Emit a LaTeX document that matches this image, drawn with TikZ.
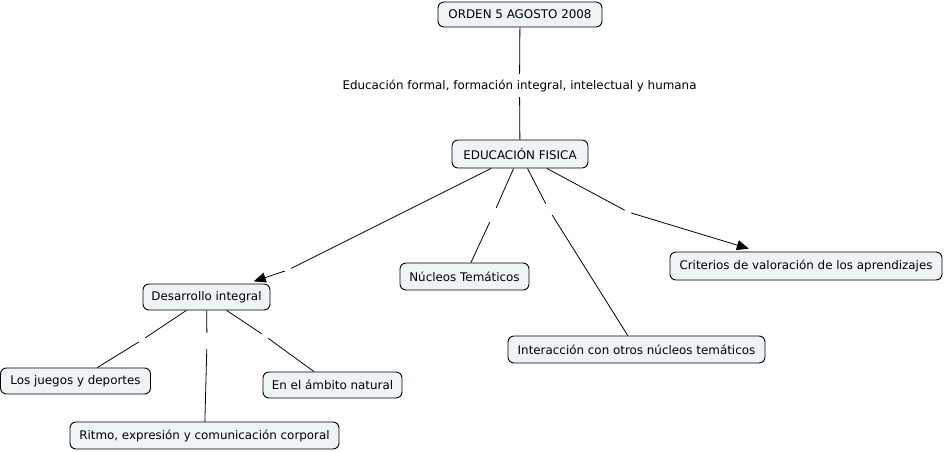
\documentclass[tikz,border=0pt]{standalone}
\usepackage{fontspec}
\setmainfont{DejaVu Sans}
\usetikzlibrary{arrows.meta}
\definecolor{boxfill}{RGB}{238,244,246}
\begin{document}
\begin{tikzpicture}[x=1pt,y=-1pt,
  concept/.style={draw=black, line width=0.9pt, rounded corners=6pt, fill=boxfill,
    inner sep=0pt, font=\fontsize{11.9}{14}\selectfont},
  lbl/.style={inner sep=0pt, font=\fontsize{11.9}{14}\selectfont},
  gapnode/.style={inner sep=0pt, minimum width=6pt, minimum height=16pt},
  link/.style={line width=0.8pt},
  arr/.style={link, -{Triangle[length=12pt,width=10pt]}}
]
\useasboundingbox (0,0) rectangle (945,452);

% concepts
\node[concept, minimum width=164pt, minimum height=25pt] (orden) at (520,14.5) {ORDEN 5 AGOSTO 2008};
\node[concept, minimum width=136pt, minimum height=28pt] (ef) at (520,154) {EDUCACIÓN FISICA};
\node[concept, minimum width=127pt, minimum height=26pt] (des) at (206.5,297) {Desarrollo integral};
\node[concept, minimum width=129pt, minimum height=27pt] (nuc) at (464.5,276.5) {Núcleos Temáticos};
\node[concept, minimum width=272pt, minimum height=28pt] (cri) at (806,266) {Criterios de valoración de los aprendizajes};
\node[concept, minimum width=257pt, minimum height=27pt] (int) at (636.5,349.5) {Interacción con otros núcleos temáticos};
\node[concept, minimum width=150pt, minimum height=26pt] (jue) at (75.5,381) {Los juegos y deportes};
\node[concept, minimum width=269pt, minimum height=27pt] (rit) at (204.5,435.5) {Ritmo, expresión y comunicación corporal};
\node[concept, minimum width=139pt, minimum height=26pt] (amb) at (332.5,385) {En el ámbito natural};

% linking phrase
\node[lbl, minimum height=23pt] (l0) at (519.5,85.5) {Educación formal, formación integral, intelectual y humana};

% empty linking phrases (gaps)
\node[gapnode] (g1) at (288,270) {};
\node[gapnode] (g2) at (493,215) {};
\node[gapnode] (g3) at (549,210) {};
\node[gapnode] (g4) at (628,212) {};
\node[gapnode] (g5) at (142,340) {};
\node[gapnode] (g6) at (207,341) {};
\node[gapnode] (g7) at (265,336) {};

% connectors
\draw[link] (orden) -- (l0);
\draw[link] (l0) -- (ef);

\draw[link] (ef) -- (g1);
\draw[arr, shorten >=7pt] (g1) -- (des);
\draw[link] (ef) -- (g2);
\draw[link] (g2) -- (nuc);
\draw[link] (ef) -- (g3);
\draw[link] (g3) -- (int);
\draw[link] (ef) -- (g4);
\draw[arr, shorten >=10pt] (g4) -- (cri);

\draw[link] (des) -- (g5);
\draw[link] (g5) -- (jue);
\draw[link] (des) -- (g6);
\draw[link] (g6) -- (rit);
\draw[link] (des) -- (g7);
\draw[link] (g7) -- (amb);
\end{tikzpicture}
\end{document}
